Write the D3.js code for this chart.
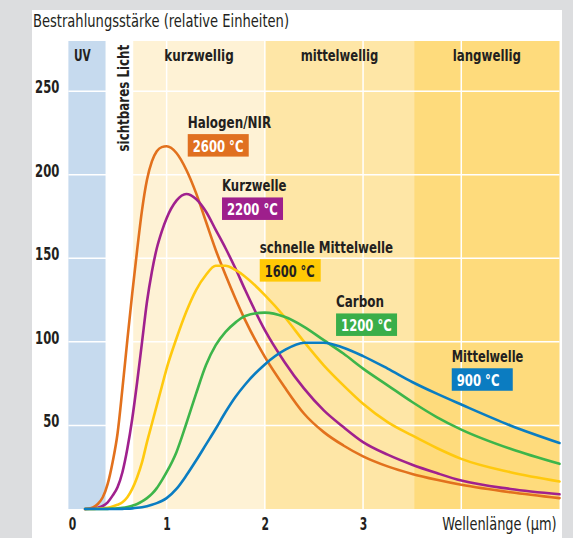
<!DOCTYPE html>
<html><head><meta charset="utf-8">
<script src="https://cdn.jsdelivr.net/npm/d3@7"></script>
<style>
html,body{margin:0;padding:0;background:#dcdddf;}
svg{display:block;}
text{font-family:"Liberation Sans Narrow","DejaVu Sans Condensed","Roboto Condensed",sans-serif;fill:#231f20;}
</style></head>
<body>
<script>
// ---- data ----
const wavelengths = [0.17,0.25,0.3,0.35,0.4,0.45,0.5,0.55,0.6,0.65,0.7,0.75,0.8,0.85,0.9,0.95,1.0,1.1,1.2,1.3,1.4,1.5,1.6,1.7,1.8,2.0,2.2,2.4,2.6,2.8,3.0,3.25,3.5,3.75,4.0,4.5,5.0];
const halogen   = [0,1,3,7,15,28,45,72,101,129,155,179,197,208,214,216.5,217,213,203,189,172,155,140,126,113,91,73,57,46,38,31.5,25.5,21,17.5,14.5,10,6.5];
const kurzwelle = [0,0.3,0.8,1.8,4,8,13,22,36,54,76,100,124,142,156,166,174,184.5,188.5,185.5,178,167,156,144,131,107,88,72,59,49,40,32.5,26.5,21.5,17,12,8.8];
const schnelleMW= [0,0,0.2,0.4,0.8,1.5,2.5,4,7,12,19,28,40,51,62,73,84,102,118,131,140,145.5,145.5,143,139,128,115,100,86,74,63,52,44,36.5,30,22,16.5];
const carbon    = [0,0,0,0,0.1,0.2,0.4,0.7,1.2,2,3,4.5,6.5,9,12.5,17,22,34,51,69,86,98,106,111.5,115.5,117.5,115,109,101,93,84,74,64,55,47.5,36,27];
const mittelwelle=[0,0,0,0,0,0,0,0.1,0.2,0.4,0.7,1.1,1.7,2.5,3.5,4.8,6.5,12,20,29,38.5,48,58,67,74.5,86.5,95,99.5,99.5,96.5,91.5,84,76,69,62.5,50,39.5];
const seriesNames = ["Halogen/NIR","Kurzwelle","schnelle Mittelwelle","Carbon","Mittelwelle"];
const seriesTemps = ["2600 °C","2200 °C","1600 °C","1200 °C","900 °C"];
const bandNames = ["UV","sichtbares Licht","kurzwellig","mittelwellig","langwellig"];
const bandStarts = [0,0.38,0.66,2.0,3.52];
const bandEnds   = [0.38,0.66,2.0,3.52,5.0];
const xTicks = [0,1,2,3];
const yTicks = [50,100,150,200,250];
const title = "Bestrahlungsstärke (relative Einheiten)";
const xTitle = "Wellenlänge (µm)";

// ---- styles/layout ----
const seriesColors = ["#e2711d","#a0218e","#ffc90e","#3db54a","#0a7dc2"];
const boxColors = ["#e07020","#9e1f8c","#ffc905","#3aae49","#0b7cc1"];
const boxText = ["#fff","#fff","#231f20","#fff","#fff"];
const bandColors = ["#c6daee","#ffffff","#fef2d5","#fee6a6","#fedb7c"];
const labelAnchors = [[1.215,224.3],[1.564,186.4],[1.948,149.5],[2.725,117],[3.903,84.2]];
const nameWidths = [83.4,64.4,133.3,48,71.6];
const tempWidths = [50.7,50.7,50,50.7,42.7];
const bandLabelWidths = [16.7,106.7,69.4,77.7,68.3];

const W=573,H=538;
const svg=d3.select("body").append("svg").attr("width",W).attr("height",H);
svg.append("rect").attr("x",32).attr("y",10).attr("width",530).attr("height",H-10).attr("fill","#fff");

const x=d3.scaleLinear().domain([0,5]).range([68.4,559.5]);
const y=d3.scaleLinear().domain([0,280]).range([509,41]);

function fit(sel,w){ sel.attr("textLength",w).attr("lengthAdjust","spacingAndGlyphs"); return sel; }
// horizontal squeeze via transform (keeps bounding box honest)
function squeeze(sel,px,py,w){
  const nat=sel.node().getComputedTextLength();
  sel.attr("x",0).attr("y",0).attr("transform",`translate(${px},${py}) scale(${w/nat},1)`);
  return sel;
}

// bands
svg.selectAll("rect.band").data(bandStarts).enter().append("rect")
  .attr("x",(d)=>x(d)).attr("y",y(280))
  .attr("width",(d,i)=>x(bandEnds[i])-x(d)).attr("height",y(0)-y(280))
  .attr("fill",(d,i)=>bandColors[i]);

// grid
const grid=svg.append("g").attr("stroke","#fff").attr("stroke-width",1.5);
grid.selectAll("line.h").data(yTicks).enter().append("line")
  .attr("x1",x(0)).attr("x2",x(5)).attr("y1",d=>y(d)).attr("y2",d=>y(d));
grid.selectAll("line.v").data([1,2,3,4]).enter().append("line")
  .attr("x1",d=>x(d)).attr("x2",d=>x(d)).attr("y1",y(280)).attr("y2",y(0));

// band labels
fit(svg.append("text").attr("x",74).attr("y",60.5).attr("font-size",16).attr("font-weight","bold").text(bandNames[0]),bandLabelWidths[0]);
fit(svg.append("text").attr("transform",`translate(128.5,151.5) rotate(-90)`)
  .attr("font-size",16.5).attr("font-weight","bold").text(bandNames[1]),bandLabelWidths[1]);
[2,3,4].forEach(i=>{
  const cx=x((bandStarts[i]+bandEnds[i])/2);
  fit(svg.append("text").attr("x",cx-bandLabelWidths[i]/2).attr("y",60.5)
   .attr("font-size",16).attr("font-weight","bold").text(bandNames[i]),bandLabelWidths[i]);
});

// axes
const yAxis=svg.append("g").attr("transform",`translate(${x(0)},0)`)
  .call(d3.axisLeft(y).tickValues(yTicks).tickSize(0).tickPadding(9));
yAxis.select(".domain").remove();
yAxis.attr("font-family",null).attr("font-size",null);
yAxis.selectAll("text").attr("font-size",17).attr("font-weight","bold").attr("dy",0).attr("y",1.5)
  .each(function(d){ fit(d3.select(this), String(d).length*8.1); });
const xAxis=svg.append("g").attr("transform",`translate(0,${y(0)})`)
  .call(d3.axisBottom(x).tickValues(xTicks).tickSize(0).tickPadding(0).tickFormat(d3.format("d")));
xAxis.select(".domain").remove();
xAxis.attr("font-family",null).attr("font-size",null);
xAxis.selectAll("text").attr("font-size",17).attr("font-weight","bold").attr("dy",0).attr("y",21)
  .each(function(d){ fit(d3.select(this), 7.5); });
xAxis.selectAll(".tick").filter(d=>d===0).select("text").attr("x",3.6);

// titles
fit(svg.append("text").attr("x",33).attr("y",27).attr("font-size",17).text(title),256);
squeeze(svg.append("text").attr("font-size",17).text(xTitle),442.3,530,114.4);

// curves
const allSeries=[halogen,kurzwelle,schnelleMW,carbon,mittelwelle];
const line=d3.line().x((d,i)=>x(wavelengths[i])).y(d=>y(d)).curve(d3.curveMonotoneX);
svg.selectAll("path.curve").data(allSeries).enter().append("path")
  .attr("d",d=>line(d)).attr("fill","none").attr("stroke",(d,i)=>seriesColors[i])
  .attr("stroke-width",2.6).attr("stroke-linejoin","round").attr("stroke-linecap","round");

// curve labels
seriesNames.forEach((n,i)=>{
  const bx=x(labelAnchors[i][0]), by=y(labelAnchors[i][1]);
  fit(svg.append("text").attr("x",bx).attr("y",by-6).attr("font-size",16.5).attr("font-weight","bold").text(n),nameWidths[i]);
  svg.append("rect").attr("x",bx).attr("y",by).attr("width",61).attr("height",22.5).attr("fill",boxColors[i]);
  fit(svg.append("text").attr("x",bx+5).attr("y",by+18).attr("font-size",16.5).attr("font-weight","bold")
    .style("fill",boxText[i]).text(seriesTemps[i]),tempWidths[i]);
});
</script>
</body></html>
